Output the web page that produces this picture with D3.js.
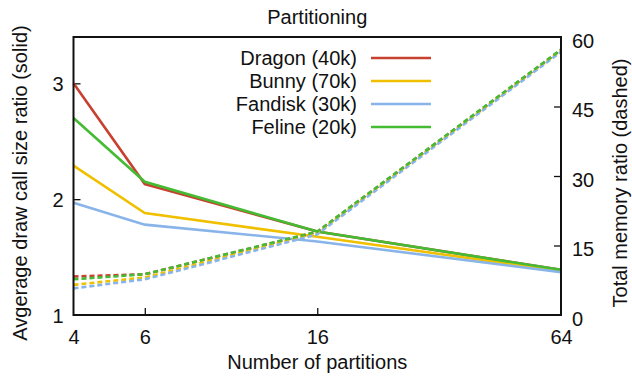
<!DOCTYPE html>
<html>
<head>
<meta charset="utf-8">
<script src="https://cdn.jsdelivr.net/npm/d3@7"></script>
<style>
  body { margin: 0; background: #fff; }
  text { font-family: "Liberation Sans", Arial, sans-serif; fill: #111; }
</style>
</head>
<body>
<div id="draw"></div>
<script>
var partitions = [4, 6, 16, 64];
var seriesNames = ['Dragon (40k)', 'Bunny (70k)', 'Fandisk (30k)', 'Feline (20k)'];
var seriesColors = ['#c8402f', '#f0c000', '#88b4ea', '#44bb33'];

// average draw call size ratio (solid, left axis)
var dragonSolid = [3.0, 2.13, 1.72, 1.39];
var bunnySolid = [2.29, 1.88, 1.675, 1.38];
var fandiskSolid = [1.97, 1.78, 1.635, 1.37];
var felineSolid = [2.70, 2.15, 1.72, 1.39];

// total memory ratio (dashed, right axis)
var dragonDashed = [8.3, 8.8, 17.9, 57.2];
var bunnyDashed = [6.5, 8.1, 17.7, 57.0];
var fandiskDashed = [5.75, 7.7, 17.4, 56.8];
var felineDashed = [7.7, 8.8, 18.0, 57.3];

var leftTicks = [1, 2, 3];
var rightTicks = [0, 15, 30, 45, 60];

var solids = [dragonSolid, bunnySolid, fandiskSolid, felineSolid];
var dashes = [dragonDashed, bunnyDashed, fandiskDashed, felineDashed];

var W = 632, H = 379;
var L = 73.5, R = 561, T = 37, B = 315;
var fs = 20;

var svg = d3.select('#draw').append('svg').attr('width', W).attr('height', H);

var x = d3.scaleLog().base(2).domain([4, 64]).range([L, R]);
var yl = d3.scaleLinear().domain([1, 3.4]).range([B, T]);
var yr = d3.scaleLinear().domain([0, 60]).range([B, T]);

// left axis
var ax = d3.axisLeft(yl).tickValues(leftTicks).tickSize(-7).tickPadding(10).tickFormat(d3.format('d'));
var gl = svg.append('g').attr('transform', 'translate(' + L + ',0)').call(ax);
// right axis
var ar = d3.axisRight(yr).tickValues(rightTicks).tickSize(-7).tickPadding(11).tickFormat(d3.format('d'));
var gr = svg.append('g').attr('transform', 'translate(' + R + ',0)').call(ar);
// bottom axis
var ab = d3.axisBottom(x).tickValues(partitions).tickSize(-7).tickPadding(15).tickFormat(d3.format('d'));
var gb = svg.append('g').attr('transform', 'translate(0,' + B + ')').call(ab);

[gl, gr, gb].forEach(function(g) {
  g.select('.domain').remove();
  g.selectAll('.tick line').attr('stroke', '#111').attr('stroke-width', 1.3);
  g.selectAll('.tick text').attr('font-size', fs).attr('fill', '#111')
    .style('font-family', '"Liberation Sans", Arial, sans-serif');
});
gl.selectAll('.tick line').filter(function(d) { return d === 1; }).remove();
gr.selectAll('.tick line').filter(function(d) { return d === 0 || d === 60; }).remove();
gb.selectAll('.tick line').filter(function(d) { return d === 4 || d === 64; }).remove();
gr.selectAll('.tick text').attr('dy', '0.5em');
gl.selectAll('.tick text').attr('dy', '0.35em');

var lineL = function(vals) {
  return d3.line().x(function(d, i) { return x(partitions[i]); })
    .y(function(d) { return yl(d); })(vals);
};
var lineR = function(vals) {
  return d3.line().x(function(d, i) { return x(partitions[i]); })
    .y(function(d) { return yr(d); })(vals);
};

for (var i = 0; i < solids.length; i++) {
  svg.append('path').attr('d', lineL(solids[i]))
    .attr('fill', 'none').attr('stroke', seriesColors[i]).attr('stroke-width', 2.6);
}
for (var i = 0; i < dashes.length; i++) {
  svg.append('path').attr('d', lineR(dashes[i]))
    .attr('fill', 'none').attr('stroke', seriesColors[i]).attr('stroke-width', 2.6)
    .attr('stroke-dasharray', '5,3');
}

// frame
svg.append('rect').attr('x', L).attr('y', T).attr('width', R - L).attr('height', B - T)
  .attr('fill', 'none').attr('stroke', '#111').attr('stroke-width', 2);

// legend
for (var i = 0; i < seriesNames.length; i++) {
  var ly = 58 + i * 23;
  svg.append('text').attr('x', 357).attr('y', ly + 7).attr('text-anchor', 'end')
    .attr('font-size', fs).text(seriesNames[i]);
  svg.append('line').attr('x1', 371).attr('x2', 431).attr('y1', ly).attr('y2', ly)
    .attr('stroke', seriesColors[i]).attr('stroke-width', 2.6);
}

// title and axis labels
svg.append('text').attr('x', (L + R) / 2).attr('y', 24).attr('text-anchor', 'middle')
  .attr('font-size', fs).text('Partitioning');
svg.append('text').attr('x', (L + R) / 2).attr('y', 369).attr('text-anchor', 'middle')
  .attr('font-size', fs).text('Number of partitions');
svg.append('text').attr('transform', 'translate(27,' + 183 + ') rotate(-90)')
  .attr('text-anchor', 'middle').attr('font-size', fs)
  .text('Avgerage draw call size ratio (solid)');
svg.append('text').attr('transform', 'translate(627,' + 183 + ') rotate(-90)')
  .attr('text-anchor', 'middle').attr('font-size', fs)
  .text('Total memory ratio (dashed)');
</script>
</body>
</html>
